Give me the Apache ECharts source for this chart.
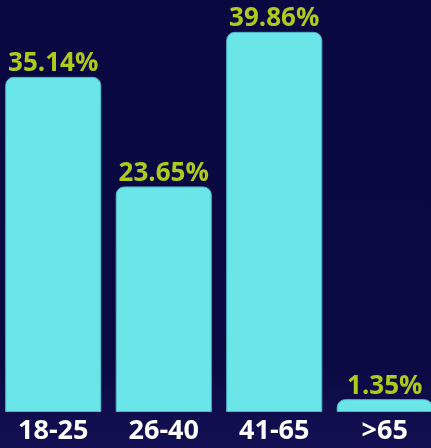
<!DOCTYPE html>
<html>
<head>
<meta charset="utf-8">
<script src="https://cdn.jsdelivr.net/npm/echarts@6/dist/echarts.min.js"></script>
<style>
html,body{margin:0;padding:0;background:#0b0940;}
#c{width:431px;height:448px;}
</style>
</head>
<body>
<div id="c"></div>
<script>
const categories = ['18-25', '26-40', '41-65', '>65'];
const values = [35.14, 23.65, 39.86, 1.35];

const chart = echarts.init(document.getElementById('c'), null, {renderer: 'canvas'});
chart.setOption({
  backgroundColor: {
    type: 'linear', x: 0, y: 0, x2: 0, y2: 1,
    colorStops: [
      {offset: 0, color: '#0a0840'},
      {offset: 0.8, color: '#0b0942'},
      {offset: 1, color: '#121053'}
    ]
  },
  animation: false,
  grid: {left: -2, width: 442, top: 0, bottom: 36, containLabel: false, outerBoundsMode: 'none'},
  xAxis: {
    type: 'category',
    data: categories,
    axisLine: {show: false},
    axisTick: {show: false},
    axisLabel: {
      color: '#ffffff',
      fontFamily: 'Open Sans',
      fontWeight: 'bold',
      fontSize: 27,
      margin: 6
    }
  },
  yAxis: {
    type: 'value',
    min: 0,
    max: 43.2,
    show: false,
    splitLine: {show: false}
  },
  series: [{
    type: 'bar',
    data: values,
    barCategoryGap: '13%',
    itemStyle: {
      color: '#6ae6e8',
      borderColor: '#4fb3c4',
      borderWidth: 1,
      borderRadius: [8, 8, 0, 0]
    },
    label: {
      show: true,
      position: 'top',
      distance: 0,
      formatter: p => p.value.toFixed(2) + '%',
      color: '#aecb1c',
      fontFamily: 'Open Sans',
      fontWeight: 'bold',
      fontSize: 26
    }
  }]
});
</script>
</body>
</html>
